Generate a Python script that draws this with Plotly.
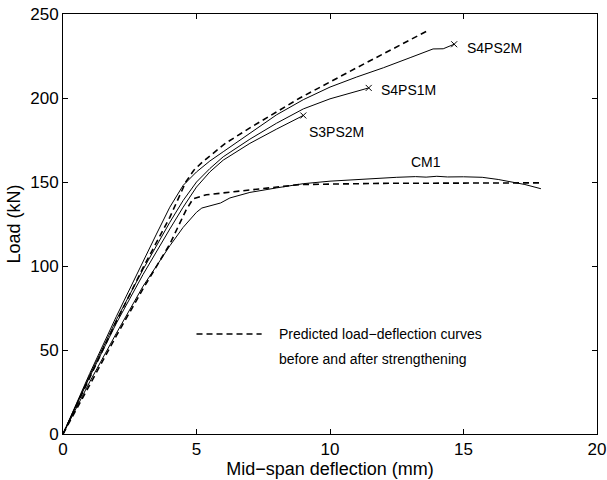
import plotly.graph_objects as go

# ---- data (mm, kN) ----
s4ps2m_x = [0, 1, 2, 2.9, 3.5, 4, 4.5, 5, 5.5, 6, 7, 8, 9, 10, 11, 12, 13, 13.86, 14.24, 14.65]
s4ps2m_y = [0, 36, 70, 100, 119, 135, 148, 156, 162.5, 168, 179, 190, 199, 206.5, 212.5, 218, 224, 229.2, 229.3, 232]

s4ps1m_x = [0, 1, 2, 3, 4, 4.5, 5, 5.5, 6, 7, 8, 9, 10, 11, 11.45]
s4ps1m_y = [0, 35, 68, 98, 126, 139, 150, 158, 165, 175.5, 185, 193.5, 199.5, 204, 206]

s3ps2m_x = [0, 1, 2, 3, 4, 4.5, 5, 5.5, 6, 7, 8, 9]
s3ps2m_y = [0, 34, 66, 95, 122, 135, 147, 156, 163, 173, 181.5, 189.6]

cm1_x = [0, 1, 2, 3, 3.5, 4, 4.5, 5, 5.2, 5.9, 6.25, 7, 8, 9, 10, 11, 12, 12.5, 13.2, 13.6, 14, 14.4, 15, 15.7, 16.3, 16.8, 17.3, 17.9]
cm1_y = [0, 31, 60, 88, 100, 112, 123, 132, 134.5, 137.5, 140.5, 143.8, 146.5, 149, 150.5, 151.5, 152.3, 152.8, 153.2, 152.9, 153.4, 153.0, 153.1, 152.8, 151.5, 150, 148.5, 146]

pred_str_x = [0, 1, 2, 3, 4, 4.6, 4.9, 5.25, 6.1, 7, 8.87, 11, 13.65]
pred_str_y = [0, 33.5, 67, 99, 129, 150, 157, 162.3, 173.2, 182.2, 200, 218, 240]

pred_cm1_x = [0, 1, 2, 3, 3.5, 4, 4.6, 4.87, 5.37, 7, 8.87, 12, 17.9]
pred_cm1_y = [0, 29.5, 58.5, 86.5, 100, 113, 133, 140, 142.4, 145.4, 148.5, 149.2, 149.5]

labels = ["S4PS2M", "S4PS1M", "S3PS2M", "CM1"]
label_x = [15.05, 11.85, 9.15, 12.95]
label_y = [230, 205, 180, 162]

legend_text = ["Predicted load\u2212deflection curves", "before and after strengthening"]

x_ticks = [0, 5, 10, 15, 20]
y_ticks = [0, 50, 100, 150, 200, 250]

FONT = "Liberation Sans, Arial, sans-serif"

fig = go.Figure()

solid = dict(color="black", width=1)
dashed = dict(color="black", width=1.6, dash="6px,4px")

for xs, ys, end_mark in [(s4ps2m_x, s4ps2m_y, True), (s4ps1m_x, s4ps1m_y, True),
                         (s3ps2m_x, s3ps2m_y, True), (cm1_x, cm1_y, False)]:
    fig.add_trace(go.Scatter(x=xs, y=ys, mode="lines", line=solid, showlegend=False,
                             hoverinfo="skip"))
    if end_mark:
        fig.add_trace(go.Scatter(x=[xs[-1]], y=[ys[-1]], mode="markers",
                                 marker=dict(symbol="x-thin", size=6,
                                             line=dict(color="black", width=1)),
                                 showlegend=False, hoverinfo="skip"))

for xs, ys in [(pred_str_x, pred_str_y), (pred_cm1_x, pred_cm1_y)]:
    fig.add_trace(go.Scatter(x=xs, y=ys, mode="lines", line=dashed, showlegend=False,
                             hoverinfo="skip"))

for t, lx, ly in zip(labels, label_x, label_y):
    fig.add_annotation(x=lx, y=ly, text=t, showarrow=False, xanchor="left", yanchor="middle",
                       font=dict(family=FONT, size=14, color="black"))

# legend-style key
fig.add_shape(type="line", xref="paper", yref="paper", x0=0.250, x1=0.372, y0=0.238, y1=0.238,
              line=dict(color="black", width=1.6, dash="6px,4px"))
fig.add_annotation(xref="paper", yref="paper", x=0.400, y=0.238, text=legend_text[0],
                   showarrow=False, xanchor="left", yanchor="middle",
                   font=dict(family=FONT, size=14, color="black"))
fig.add_annotation(xref="paper", yref="paper", x=0.400, y=0.178, text=legend_text[1],
                   showarrow=False, xanchor="left", yanchor="middle",
                   font=dict(family=FONT, size=14, color="black"))

axis_common = dict(showgrid=False, zeroline=False, showline=True, linecolor="black",
                   linewidth=1, mirror="ticks", ticks="inside", ticklen=5, tickwidth=1,
                   tickcolor="black", automargin=False,
                   tickfont=dict(family=FONT, size=17, color="black"))

fig.update_xaxes(range=[0, 20], tickvals=x_ticks, ticktext=[str(v) for v in x_ticks],
                 title=dict(text="Mid\u2212span deflection (mm)", standoff=0,
                            font=dict(family=FONT, size=18, color="black")),
                 **axis_common)
fig.update_yaxes(range=[0, 250], tickvals=y_ticks, ticktext=[str(v) for v in y_ticks],
                 title=dict(text="Load (kN)", standoff=4,
                            font=dict(family=FONT, size=18, color="black")),
                 **axis_common)

fig.update_layout(width=607, height=480, margin=dict(l=63, r=10, t=14, b=46),
                  paper_bgcolor="white", plot_bgcolor="white", showlegend=False)

fig.write_html("out.html")
